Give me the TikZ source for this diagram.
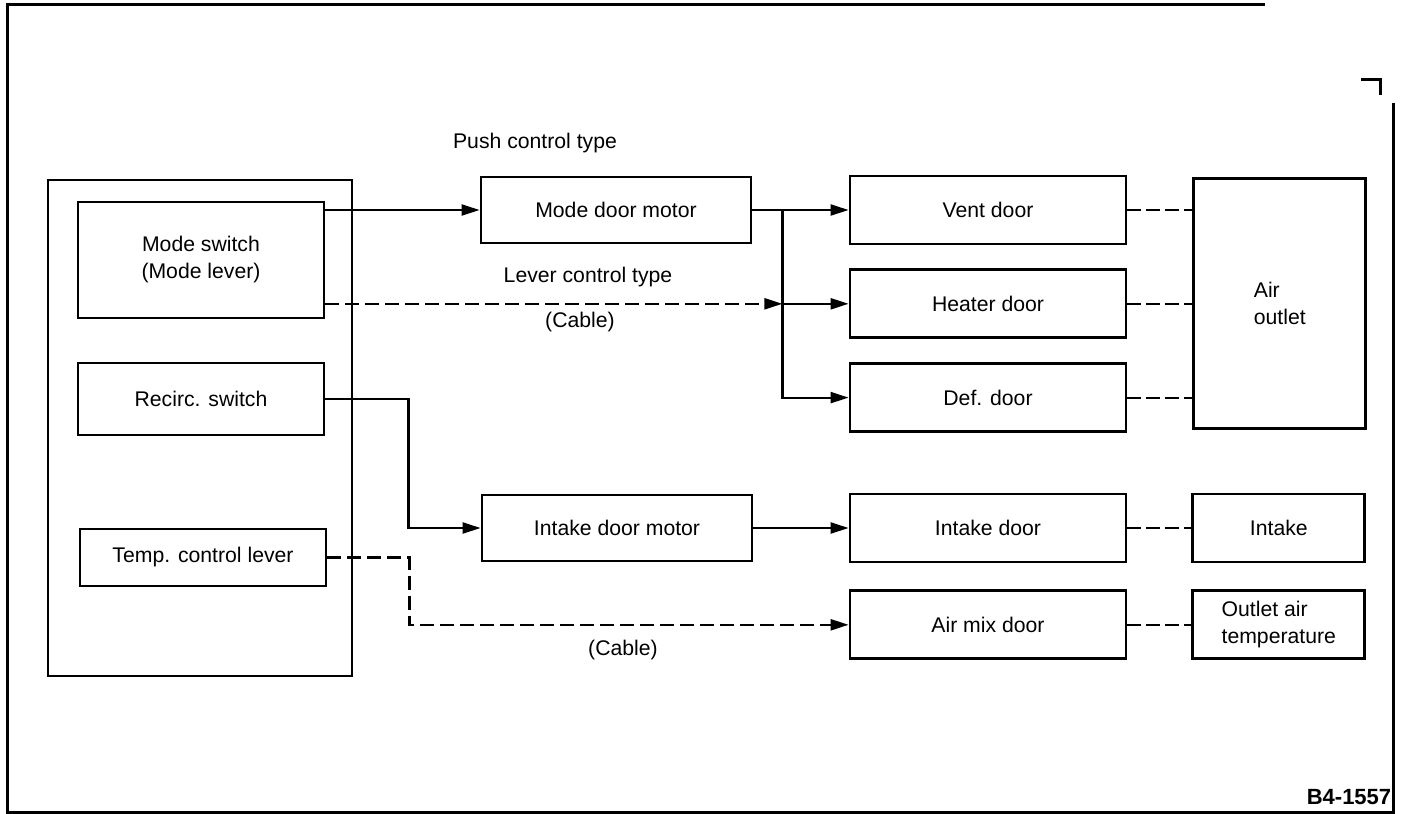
\documentclass[tikz,border=0pt]{standalone}
\usepackage{fontspec}
\setmainfont{Liberation Sans}
\usetikzlibrary{arrows.meta,positioning}

\begin{document}
\begin{tikzpicture}[x=0.5pt,y=-0.5pt,node distance=11.5pt,
    font=\fontsize{10.6}{13.5}\selectfont]
    \tikzset{switchbox/.style={draw,line width=1.4pt,minimum width=123pt,align=center,inner sep=2pt},
      motorbox/.style={draw,line width=1.4pt,minimum width=135pt,minimum height=33pt,align=center},
      doorbox/.style={draw,line width=1.4pt,minimum width=138pt,minimum height=34pt,align=center},
      resultbox/.style={draw,line width=1.4pt,minimum width=86pt,minimum height=34pt,align=left},
      link/.style={line width=1.1pt,-{Triangle[length=9pt,width=5.5pt]}},
      cable/.style={link,dash pattern=on 7pt off 3pt},
      tie/.style={line width=1.1pt,dash pattern=on 7pt off 2.5pt},
      frame/.style={line width=1.5pt}}
    \useasboundingbox (0,0) rectangle (1404,814);
    % sheet frame
    \draw[frame] (1265,4) -- (7,4) -- (7,812) -- (1393,812) -- (1393,103);
    \draw[frame] (1361,79) -| (1380,95);
    % control panel
    \node[draw,line width=1.2pt,minimum width=152pt,minimum height=248pt] (panel) at (200,428) {};
    \node[switchbox,minimum height=58pt] (modesw) at (201,260) {Mode switch\\(Mode lever)};
    \node[switchbox,minimum height=36pt] (recirc) at (201,399) {Recirc. switch};
    \node[switchbox,minimum height=28.5pt] (temp) at (203,557.5) {Temp. control lever};
    % motors
    \node[motorbox] (modemotor) at (616,210) {Mode door motor};
    \node[motorbox] (intakemotor) at (617,528) {Intake door motor};
    % doors
    \node[doorbox] (vent) at (988,210) {Vent door};
    \node[doorbox,below=of vent] (heater) {Heater door};
    \node[doorbox,below=of heater] (def) {Def. door};
    \node[doorbox] (intakedoor) at (988,528) {Intake door};
    \node[doorbox,below=13pt of intakedoor] (airmix) {Air mix door};
    % results
    \node[resultbox,minimum height=125pt,right=32.5pt of heater] (airout) {Air\\outlet};
    \node[resultbox,align=center,right=32pt of intakedoor] (intake) {Intake};
    \node[resultbox,right=32pt of airmix] (outlettemp) {Outlet air\\temperature};
    % labels
    \node (pushlbl) at (535,143) {Push control type};
    \node (leverlbl) at (588,277) {Lever control type};
    \node (cablea) at (580,322) {(Cable)};
    \node (cableb) at (623,650) {(Cable)};
    \node[font=\fontsize{11}{13}\selectfont\bfseries,inner sep=0pt] (figno) at (1349,797) {B4-1557};
    % connectors
    \coordinate[right=15pt of modemotor.east] (split);
    \draw[link] (modemotor.west -| modesw.east) -- (modemotor.west);
    \draw[link] (modemotor.east) -- (vent.west);
    \draw[link] (split) |- (def.west);
    \draw[link] (split |- heater.west) -- (heater.west);
    \draw[cable] (heater.west -| modesw.east) -- (split |- heater.west);
    \draw[link] (recirc.east) -- ++(83,0) |- (intakemotor.west);
    \draw[link] (intakemotor.east) -- (intakedoor.west);
    \draw[cable] (temp.east) -- ++(82,0) |- (airmix.west);
    \draw[tie] (vent.east) -- (vent.east -| airout.west);
    \draw[tie] (heater.east) -- (airout.west);
    \draw[tie] (def.east) -- (def.east -| airout.west);
    \draw[tie] (intakedoor.east) -- (intake.west);
    \draw[tie] (airmix.east) -- (outlettemp.west);
  \end{tikzpicture}
\end{document}
